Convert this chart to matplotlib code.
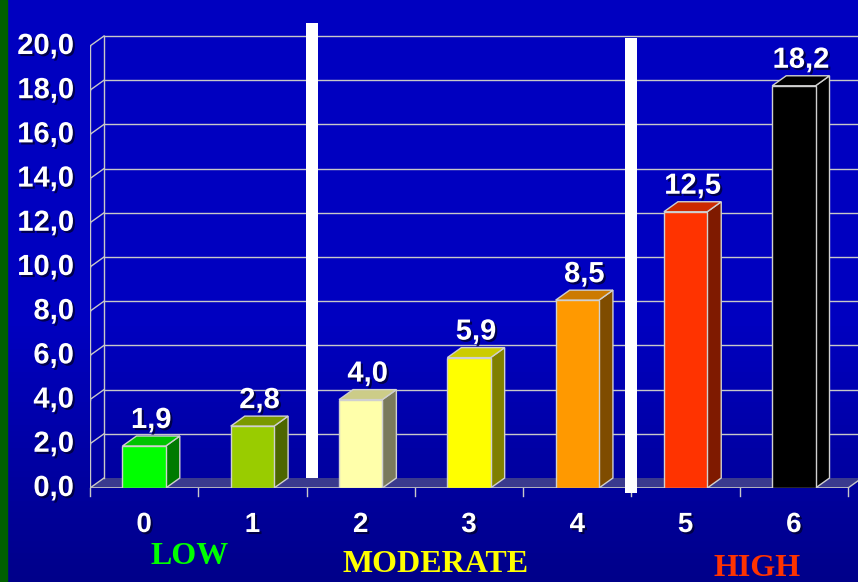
import numpy as np
import matplotlib
matplotlib.use("Agg")
import matplotlib.pyplot as plt
from matplotlib.patches import Polygon, Rectangle
from matplotlib.colors import LinearSegmentedColormap
import matplotlib.patheffects as pe

# risk score categories and their rates
categories = ['0', '1', '2', '3', '4', '5', '6']
rates = [1.9, 2.8, 4.0, 5.9, 8.5, 12.5, 18.2]
rate_labels = ['1,9', '2,8', '4,0', '5,9', '8,5', '12,5', '18,2']
yticks = [0, 2, 4, 6, 8, 10, 12, 14, 16, 18, 20]
ytick_labels = ['0,0', '2,0', '4,0', '6,0', '8,0', '10,0', '12,0',
                '14,0', '16,0', '18,0', '20,0']
groups = ['LOW', 'MODERATE', 'HIGH']
group_x = [0.42, 2.69, 5.66]
group_colors = ['#00ff00', '#ffff00', '#ff3300']
separators = [1.55, 4.5]

# face colours per bar: front, side, top
front_c = ['#00ff00', '#99cc00', '#ffffaa', '#ffff00', '#ff9900', '#ff3300', '#000000']
side_c = ['#007a00', '#4d6600', '#7a7a5c', '#808000', '#7f4c00', '#7f1a00', '#000000']
top_c = ['#00c400', '#7a9900', '#cccc88', '#cccc00', '#cc7a00', '#cc2900', '#000000']

W, H = 858, 582
fig = plt.figure(figsize=(W / 100, H / 100), dpi=100)

# background: blue fading darker towards the bottom
bg = fig.add_axes([0, 0, 1, 1])
grad = np.concatenate([np.zeros(55), np.linspace(0, 1, 45)])[:, None]
cmap = LinearSegmentedColormap.from_list('bg', ['#0000c0', '#00008a'])
bg.imshow(grad, aspect='auto', cmap=cmap, extent=[0, 1, 0, 1], origin='upper')
bg.add_patch(Rectangle((0, 0), 7 / W, 1, color='#006000'))
bg.set_xlim(0, 1)
bg.set_ylim(0, 1)
bg.axis('off')

# plot frame in pixels
x0, y0 = 90, 488          # front-left corner of the floor
ux = (848 - 90) / 7       # px per category
uy = (488 - 46) / 20      # px per unit
ax_top = 30
ax = fig.add_axes([x0 / W, (H - y0) / H, (W - x0) / W, (y0 - ax_top) / H])
ax.set_xlim(-0.5, -0.5 + (W - x0) / ux)
ax.set_ylim(0, (y0 - ax_top) / uy)
ax.axis('off')

DX = 14 / ux
DY = 10 / uy
grid_c = '#c8c8c8'
xr = ax.get_xlim()[1]
shadow = [pe.withSimplePatchShadow(offset=(1.5, -1.5), shadow_rgbFace='#000030', alpha=0.8)]

# floor
ax.add_patch(Polygon([(-0.5, 0), (6.5, 0), (6.5 + DX, DY), (-0.5 + DX, DY)],
                     closed=True, facecolor='#3a3a8e', edgecolor='none', zorder=1))
ax.plot([-0.5, 6.5], [0, 0], color=grid_c, lw=1.2, zorder=2)
ax.plot([6.5, 6.5 + DX], [0, DY], color=grid_c, lw=1, zorder=2)

# back wall grid and y axis
for v, lab in zip(yticks, ytick_labels):
    if v > 0:
        ax.plot([-0.5 + DX, xr], [v + DY, v + DY], color=grid_c, lw=1, zorder=1)
    ax.plot([-0.5, -0.5 + DX], [v, v + DY], color=grid_c, lw=1, zorder=1)
    ax.plot([-0.5 - 10 / ux, -0.5], [v, v], color=grid_c, lw=1, zorder=1)
    ax.text(-0.5 - 16 / ux, v, lab, ha='right', va='center', color='white',
            fontsize=21, fontweight='bold', family='Liberation Sans', clip_on=False,
            path_effects=shadow)
ax.plot([-0.5, -0.5], [0, 20], color=grid_c, lw=1, zorder=1)
ax.plot([-0.5 + DX, -0.5 + DX], [DY, 20 + DY], color=grid_c, lw=1, zorder=1)

# x ticks at category boundaries
for b in np.arange(-0.5, 7, 1):
    ax.plot([b, b], [0, -8 / uy], color=grid_c, lw=1, clip_on=False, zorder=2)

# 3d bars
hw = 0.2
for i, (v, lab) in enumerate(zip(rates, rate_labels)):
    ec = '#d0d0d0'
    ax.add_patch(Polygon([(i + hw, 0), (i + hw + DX, DY), (i + hw + DX, v + DY), (i + hw, v)],
                         closed=True, facecolor=side_c[i], edgecolor=ec, lw=1, zorder=3))
    ax.add_patch(Polygon([(i - hw, v), (i + hw, v), (i + hw + DX, v + DY), (i - hw + DX, v + DY)],
                         closed=True, facecolor=top_c[i], edgecolor=ec, lw=1, zorder=3))
    ax.add_patch(Rectangle((i - hw, 0), 2 * hw, v, facecolor=front_c[i],
                           edgecolor=ec, lw=1, zorder=4))
    ax.text(i + DX / 2, v + DY + 2 / uy, lab, ha='center', va='bottom', color='white',
            fontsize=21, fontweight='bold', family='Liberation Sans', zorder=6,
            path_effects=shadow)
    ax.text(i, -37 / uy, categories[i], ha='center', va='center', color='white',
            fontsize=20, fontweight='bold', family='Liberation Sans', clip_on=False,
            path_effects=shadow)

# white separators between risk groups
ax.add_patch(Rectangle((separators[0] - 6 / ux, 10 / uy), 12 / ux, (478 - 23) / uy,
                       facecolor='white', edgecolor='none', zorder=5, clip_on=False))
ax.add_patch(Rectangle((separators[1] - 6 / ux, -5 / uy), 12 / ux, (493 - 38) / uy,
                       facecolor='white', edgecolor='none', zorder=5, clip_on=False))

# risk group names
for g, gx, gc, gy in zip(groups, group_x, group_colors, [557, 565, 568]):
    ax.text(gx, (y0 - gy) / uy, g, ha='center', va='center', color=gc,
            fontsize=23, fontweight='bold', family='Liberation Serif', clip_on=False)

fig.savefig('out.png', dpi=100)
